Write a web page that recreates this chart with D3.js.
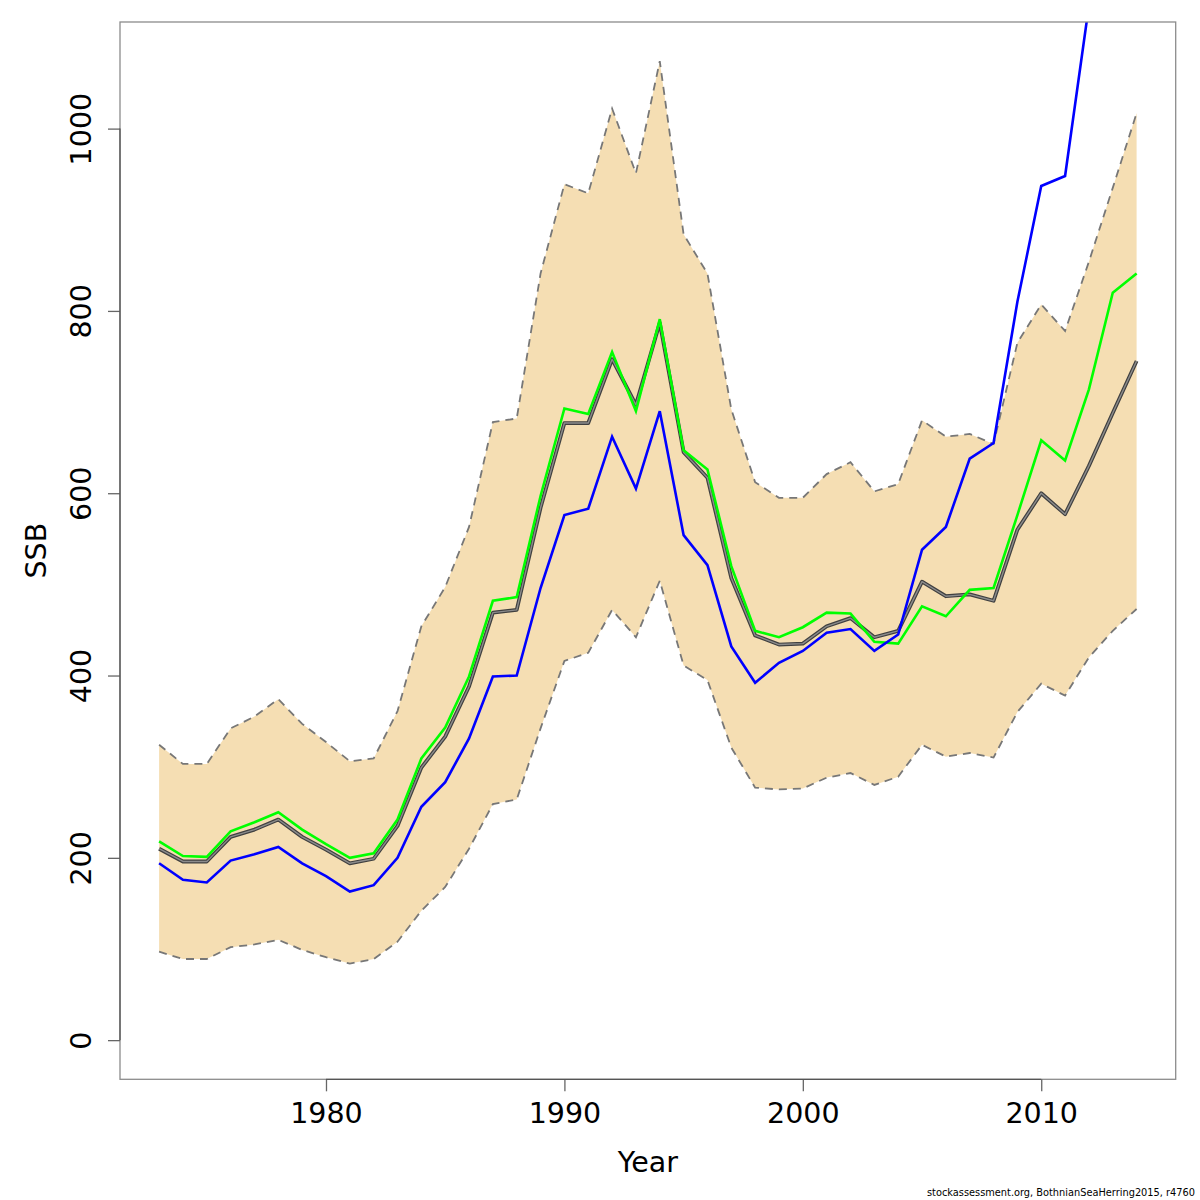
<!DOCTYPE html>
<html>
<head>
<meta charset="utf-8">
<script src="https://cdn.jsdelivr.net/npm/d3@7/dist/d3.min.js"></script>
<style>
  body { margin: 0; background: #fff; }
  svg { display: block; font-family: "DejaVu Sans", sans-serif; }
</style>
</head>
<body>
<div class="main"></div>
<script>
  // SSB estimate with confidence band plus two comparison runs
  let years = [1973, 1974, 1975, 1976, 1977, 1978, 1979, 1980, 1981, 1982,
               1983, 1984, 1985, 1986, 1987, 1988, 1989, 1990, 1991, 1992,
               1993, 1994, 1995, 1996, 1997, 1998, 1999, 2000, 2001, 2002,
               2003, 2004, 2005, 2006, 2007, 2008, 2009, 2010, 2011, 2012,
               2013, 2014];

  let ssb = [210, 196, 196, 223, 231, 242, 223, 209, 194, 199,
             235, 299, 333, 388, 469, 472, 584, 677, 677, 747,
             697, 787, 645, 617, 507, 444, 434, 435, 454, 463,
             442, 449, 503, 487, 489, 482, 560, 600, 577, 630,
             688, 745];

  let upper = [324, 303, 303, 342, 355, 374, 347, 327, 306, 309,
               361, 454, 497, 563, 678, 682, 841, 939, 929, 1022,
               951, 1074, 884, 841, 692, 612, 595, 595, 621, 634,
               602, 610, 680, 662, 665, 654, 765, 807, 778, 854,
               935, 1017];

  let lower = [97, 89, 89, 102, 105, 110, 99, 91, 84, 89,
               108, 142, 168, 210, 259, 264, 342, 416, 425, 472,
               442, 504, 411, 395, 321, 277, 275, 276, 288, 293,
               280, 289, 324, 311, 315, 310, 360, 391, 378, 420,
               449, 473];

  let greenRun = [218, 202, 201, 229, 239, 250, 231, 215, 200, 205,
                  242, 309, 343, 399, 482, 486, 597, 693, 687, 755,
                  690, 791, 647, 626, 520, 449, 442, 453, 469, 468,
                  437, 435, 476, 465, 494, 496, 576, 658, 636, 714,
                  820, 841];

  // ends in 2012, above the top of the plot
  let blueRun = [194, 176, 173, 197, 204, 212, 194, 180, 163, 170,
                 200, 256, 283, 331, 399, 400, 496, 576, 583, 662,
                 605, 690, 554, 521, 432, 392, 414, 427, 447, 451,
                 427, 445, 538, 563, 638, 655, 810, 937, 948, 1135];

  let xTicks = [1980, 1990, 2000, 2010];
  let yTicks = [0, 200, 400, 600, 800, 1000];

  let box = { left: 120, right: 1175.7, top: 22, bottom: 1079.3 };

  // R style 4% padding on both ends
  let pad4 = ext => {
    let d = (ext[1] - ext[0]) * 0.04;
    return [ext[0] - d, ext[1] + d];
  };

  let svg = d3.select('.main').append('svg')
              .attr('width', 1200)
              .attr('height', 1200);

  let x = d3.scaleLinear().domain(pad4([years[0], years[years.length - 1]]))
                          .range([box.left, box.right]);
  let y = d3.scaleLinear().domain(pad4([0, d3.max(upper)]))
                          .range([box.bottom, box.top]);

  svg.append('clipPath').attr('id', 'plotclip')
     .append('rect')
     .attr('x', box.left).attr('y', box.top)
     .attr('width', box.right - box.left).attr('height', box.bottom - box.top);

  let plot = svg.append('g').attr('clip-path', 'url(#plotclip)');

  let rows = years.map((yr, i) => ({ year: yr, est: ssb[i], hi: upper[i], lo: lower[i], g: greenRun[i] }));

  let band = d3.area()
               .x(d => x(d.year))
               .y0(d => y(d.lo))
               .y1(d => y(d.hi));

  plot.append('path').datum(rows)
      .attr('d', band)
      .attr('fill', '#f5deb3');

  let lineOf = key => d3.line().x(d => x(d.year)).y(d => y(d[key]));

  ['hi', 'lo'].forEach(k => {
    plot.append('path').datum(rows)
        .attr('d', lineOf(k))
        .attr('fill', 'none')
        .attr('stroke', '#777')
        .attr('stroke-width', 1.8)
        .attr('stroke-dasharray', '8,6');
  });

  // estimate: dark edge with lighter core
  plot.append('path').datum(rows)
      .attr('d', lineOf('est'))
      .attr('fill', 'none')
      .attr('stroke', '#404040')
      .attr('stroke-width', 3.8)
      .attr('stroke-linejoin', 'round');
  plot.append('path').datum(rows)
      .attr('d', lineOf('est'))
      .attr('fill', 'none')
      .attr('stroke', '#8c8c8c')
      .attr('stroke-width', 1.4)
      .attr('stroke-linejoin', 'round');

  plot.append('path').datum(rows)
      .attr('d', lineOf('g'))
      .attr('fill', 'none')
      .attr('stroke', '#00ff00')
      .attr('stroke-width', 2.6);

  let blueRows = blueRun.map((v, i) => ({ year: years[i], b: v }));
  plot.append('path').datum(blueRows)
      .attr('d', lineOf('b'))
      .attr('fill', 'none')
      .attr('stroke', '#0000ff')
      .attr('stroke-width', 2.6);

  // frame
  svg.append('rect')
     .attr('x', box.left).attr('y', box.top)
     .attr('width', box.right - box.left).attr('height', box.bottom - box.top)
     .attr('fill', 'none')
     .attr('stroke', '#8c8c8c')
     .attr('stroke-width', 1.3);

  // axes, R style: axis line only between first and last tick
  let xAxis = svg.append('g')
                 .attr('transform', `translate(0,${box.bottom})`)
                 .call(d3.axisBottom(x).tickValues(xTicks).tickFormat(d3.format('d'))
                         .tickSize(12).tickPadding(11.5));
  xAxis.select('.domain').remove();
  xAxis.append('line')
       .attr('x1', x(xTicks[0])).attr('x2', x(xTicks[xTicks.length - 1]))
       .attr('stroke', '#555').attr('stroke-width', 1.3);

  let yAxis = svg.append('g')
                 .attr('transform', `translate(${box.left},0)`)
                 .call(d3.axisLeft(y).tickValues(yTicks).tickFormat(d3.format('d')).tickSize(12));
  yAxis.select('.domain').remove();
  yAxis.append('line')
       .attr('y1', y(yTicks[0])).attr('y2', y(yTicks[yTicks.length - 1]))
       .attr('stroke', '#555').attr('stroke-width', 1.3);
  yAxis.selectAll('.tick text')
       .attr('x', null).attr('dy', null)
       .attr('text-anchor', 'middle')
       .attr('transform', 'translate(-29.3,0) rotate(-90)');

  svg.selectAll('.tick line').attr('stroke', '#666').attr('stroke-width', 1.3);
  svg.selectAll('.tick text')
     .attr('fill', '#000')
     .style('font-family', '"DejaVu Sans", sans-serif')
     .style('font-size', '28.5px');

  svg.append('text')
     .attr('x', (box.left + box.right) / 2).attr('y', 1172)
     .attr('text-anchor', 'middle')
     .style('font-size', '28.5px')
     .text('Year');

  svg.append('text')
     .attr('transform', `translate(46,${(box.top + box.bottom) / 2}) rotate(-90)`)
     .attr('text-anchor', 'middle')
     .style('font-size', '28.5px')
     .text('SSB');

  svg.append('text')
     .attr('x', 1195).attr('y', 1196)
     .attr('text-anchor', 'end')
     .style('font-size', '9.8px')
     .text('stockassessment.org, BothnianSeaHerring2015, r4760');
</script>
</body>
</html>
